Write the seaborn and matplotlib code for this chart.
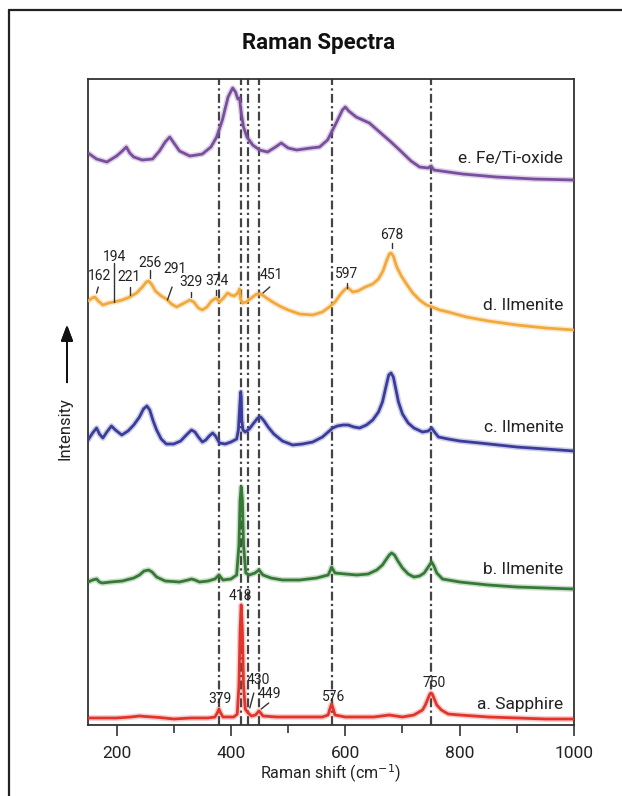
import numpy as np
import pandas as pd
import seaborn as sns
import matplotlib.pyplot as plt
from matplotlib.lines import Line2D

# ---- spectra (Raman shift in cm-1, stacked intensity in a.u.) ----
sapphire_x = [150, 175, 200, 225, 240, 250, 275, 300, 330, 360, 372, 376, 379, 382, 386, 405, 411,
              414, 416, 418, 420, 422, 425, 430, 436, 443, 446, 449, 452, 456, 480, 520, 560, 570,
              573, 576, 579, 582, 600, 650, 677, 700, 720, 735, 740, 745, 748, 750, 752, 755, 760,
              768, 780, 800, 850, 900, 950, 1000]
sapphire_y = [7, 7, 7, 8, 9, 8.5, 7.5, 6, 7, 7, 8, 12, 16, 12, 8, 8, 11,
              40, 95, 120, 95, 40, 16, 12, 9, 10, 12, 14, 12, 9, 8, 8, 8, 10,
              16, 21, 16, 10, 8, 8, 10, 8, 10, 15, 20, 27, 31, 32, 31, 27, 20,
              15, 11, 10, 8, 7, 6, 6]

ilm_b_x = [150, 158, 165, 170, 175, 190, 210, 230, 240, 248, 256, 262, 270, 285, 310, 325, 331,
           337, 345, 360, 372, 379, 386, 400, 410, 414, 416, 418, 420, 422, 426, 432, 442, 449,
           456, 470, 490, 520, 550, 570, 574, 576, 579, 582, 600, 620, 640, 655, 665, 672, 677,
           681, 686, 692, 700, 710, 720, 730, 738, 745, 751, 755, 760, 770, 800, 850, 900, 950,
           1000]
ilm_b_y = [143, 145, 146, 143, 142, 143, 144, 147, 150, 154, 155, 153, 148, 144, 143, 145, 146,
           145, 143, 144, 146, 150, 145, 146, 150, 180, 225, 238, 225, 180, 152, 150, 152, 155,
           150, 147, 145, 145, 147, 150, 155, 158, 155, 152, 151, 150, 151, 155, 160, 166, 170,
           172, 170, 164, 157, 151, 148, 149, 152, 158, 163, 159, 152, 146, 143, 140, 138, 137,
           136]

ilm_c_x = [150, 158, 165, 170, 176, 183, 191, 198, 209, 220, 230, 240, 247, 253, 258, 264, 270,
           278, 287, 300, 312, 322, 331, 337, 343, 350, 356, 362, 368, 373, 380, 390, 400, 410,
           413, 415, 417, 418, 419, 421, 425, 432, 440, 447, 452, 458, 465, 475, 490, 508, 525,
           543, 560, 570, 578, 586, 596, 605, 615, 625, 637, 648, 658, 665, 671, 676, 680, 684,
           688, 693, 700, 710, 720, 735, 745, 751, 756, 763, 780, 800, 835, 900, 950, 1000]
ilm_c_y = [285, 292, 297, 291, 287, 293, 299, 295, 290, 294, 300, 308, 316, 319, 315, 304, 295,
           286, 281, 281, 284, 290, 295, 293, 288, 283, 285, 289, 292, 289, 282, 281, 283, 286,
           295, 315, 333, 328, 305, 295, 293, 296, 302, 307, 308, 304, 298, 291, 284, 280, 281,
           283, 288, 293, 297, 299, 300, 300, 298, 297, 300, 305, 313, 323, 338, 350, 352, 348,
           337, 323, 311, 302, 297, 293, 294, 297, 293, 288, 286, 284, 282, 278, 276, 274]

ilm_d_x = [150, 157, 162, 168, 176, 186, 196, 210, 223, 235, 245, 252, 256, 261, 268, 278, 287,
           296, 305, 315, 328, 335, 343, 350, 358, 366, 374, 380, 387, 394, 400, 406, 412, 415,
           417, 420, 427, 438, 445, 452, 460, 470, 485, 500, 520, 543, 560, 572, 582, 592, 600,
           605, 613, 622, 635, 648, 658, 666, 672, 677, 680, 684, 690, 698, 707, 718, 730, 742,
           752, 765, 780, 812, 850, 900, 950, 1000]
ilm_d_y = [424, 427, 428, 424, 420, 422, 423, 425, 428, 432, 438, 443, 444, 441, 434, 429, 426,
           421, 418, 421, 425, 423, 417, 415, 418, 424, 427, 423, 427, 432, 430, 429, 432, 436,
           426, 422, 423, 428, 431, 431, 428, 424, 419, 415, 411, 410, 413, 418, 423, 431, 436,
           437, 433, 434, 438, 441, 446, 454, 464, 471, 472, 469, 458, 449, 441, 432, 425, 420,
           418, 415, 413, 408, 404, 400, 397, 395]

feti_x = [150, 165, 183, 200, 210, 217, 223, 230, 245, 263, 275, 285, 293, 299, 310, 328, 340,
          350, 365, 375, 385, 395, 403, 408, 412, 415, 418, 422, 428, 438, 450, 464, 478, 488,
          500, 515, 540, 555, 569, 584, 595, 600, 606, 619, 642, 660, 680, 695, 715, 730, 745,
          750, 755, 780, 805, 864, 930, 1000]
feti_y = [572, 566, 563, 569, 574, 578, 572, 568, 565, 566, 574, 583, 588, 583, 574, 569, 570,
          571, 578, 588, 605, 628, 637, 633, 626, 627, 612, 598, 588, 580, 575, 573, 578, 582,
          577, 575, 577, 578, 585, 602, 615, 618, 614, 608, 602, 593, 583, 575, 564, 558, 557,
          559, 555, 553, 551, 548, 546, 545]

names = ["a. Sapphire", "b. Ilmenite", "c. Ilmenite", "d. Ilmenite", "e. Fe/Ti-oxide"]
colors = ["#e3342c", "#347a34", "#3a3c9c", "#f2a93c", "#7a4e9e"]
label_y = [21, 155, 297, 419, 567]

ref_lines = [379, 418, 430, 449, 576, 750]

# peak labels: (text, text x, text y, leader line x0, x1, y0, y1)
peak_d = [("162", 170, 449, 168, 165, 438, 432),
          ("194", 197, 468, 196, 196, 462, 423),
          ("221", 222, 448, 223, 223, 438, 430),
          ("256", 258, 462, 258, 258, 455, 447),
          ("291", 302, 456, 297, 289, 438, 425),
          ("329", 330, 443, 331, 331, 433, 428),
          ("374", 375, 444, 374, 374, 435, 430),
          ("451", 470, 450, 468, 456, 438, 432),
          ("597", 603, 451, 603, 603, 442, 437),
          ("678", 682, 490, 682, 682, 482, 477)]
peak_a = [("379", 381, 26, None, None, None, None),
          ("418", 417, 129, None, None, None, None),
          ("430", 447, 45, 440, 433, 32, 17),
          ("449", 468, 31, 466, 453, 22, 16),
          ("576", 579, 28, None, None, None, None),
          ("750", 755, 42, None, None, None, None)]

frames = []
for name, xs, ys in zip(names, [sapphire_x, ilm_b_x, ilm_c_x, ilm_d_x, feti_x],
                        [sapphire_y, ilm_b_y, ilm_c_y, ilm_d_y, feti_y]):
    frames.append(pd.DataFrame({"shift": xs, "intensity": ys, "sample": name}))
df = pd.concat(frames, ignore_index=True)

sns.set_theme(style="white")
plt.rcParams['font.family'] = ['Roboto', 'DejaVu Sans']

fig = plt.figure(figsize=(6.22, 7.96), dpi=100)
ax = fig.add_axes([88 / 622, 71 / 796, 486 / 622, 646 / 796])

for x in ref_lines:
    ax.axvline(x, color="#444444", lw=1.6, ls=(0, (4, 1.5, 1, 1.5)), zorder=1)

pal = dict(zip(names, colors))
# soft halo under every trace
sns.lineplot(data=df, x="shift", y="intensity", hue="sample", units="sample", estimator=None,
             sort=False, palette=pal, lw=4.2, alpha=0.25, legend=False, ax=ax, zorder=2,
             solid_joinstyle="round")
sns.lineplot(data=df, x="shift", y="intensity", hue="sample", units="sample", estimator=None,
             sort=False, palette=pal, lw=2.0, legend=False, ax=ax, zorder=3,
             solid_joinstyle="round")

for name, yy in zip(names, label_y):
    ax.text(981, yy, name, ha="right", va="center", fontsize=12.5, color="#222222", zorder=4)

for lab, tx, ty, x0, x1, y0, y1 in peak_d + peak_a:
    ax.text(tx, ty, lab, ha="center", va="center", fontsize=10, color="#222222", zorder=4)
    if x0 is not None:
        ax.plot([x0, x1], [y0, y1], color="#333333", lw=1.0, zorder=4)

ax.set_xlim(150, 1000)
ax.set_ylim(0, 646)
ax.set_xticks([200, 400, 600, 800, 1000])
ax.set_xticks([300, 500, 700, 900], minor=True)
ax.set_yticks([])
ax.tick_params(axis="x", which="major", direction="out", length=8, width=1.2, color="#333333",
               labelsize=12.5, pad=7, bottom=True, labelcolor="#222222")
ax.tick_params(axis="x", which="minor", direction="out", length=5.5, width=1.2, color="#333333",
               bottom=True)
for s in ax.spines.values():
    s.set_color("#333333")
    s.set_linewidth(1.3)
ax.set_xlabel("Raman shift (cm$^{-1}$)", fontsize=11.5, color="#222222", labelpad=1)
ax.set_ylabel("")

fig.text(319 / 622, 1 - 43 / 796, "Raman Spectra", ha="center", va="center",
         fontsize=16, fontweight="bold", color="#111111")

fig.text(65 / 622, 1 - 429 / 796, "Intensity", rotation=90, ha="center", va="center",
         fontsize=12, color="#222222")
fig.add_artist(plt.annotate("", xy=(67 / 622, 1 - 322 / 796), xycoords="figure fraction",
                            xytext=(67 / 622, 1 - 385 / 796), textcoords="figure fraction",
                            arrowprops=dict(arrowstyle="-|>,head_length=0.8,head_width=0.3",
                                            color="#111111", lw=1.4)))

# outer frame, open to the right and bottom
fig.add_artist(Line2D([9 / 622, 9 / 622], [0, 1 - 10 / 796], transform=fig.transFigure,
                      color="#222222", lw=1.6))
fig.add_artist(Line2D([9 / 622, 1], [1 - 10 / 796, 1 - 10 / 796], transform=fig.transFigure,
                      color="#222222", lw=1.6))

fig.savefig("out.png", dpi=100, facecolor="white")
